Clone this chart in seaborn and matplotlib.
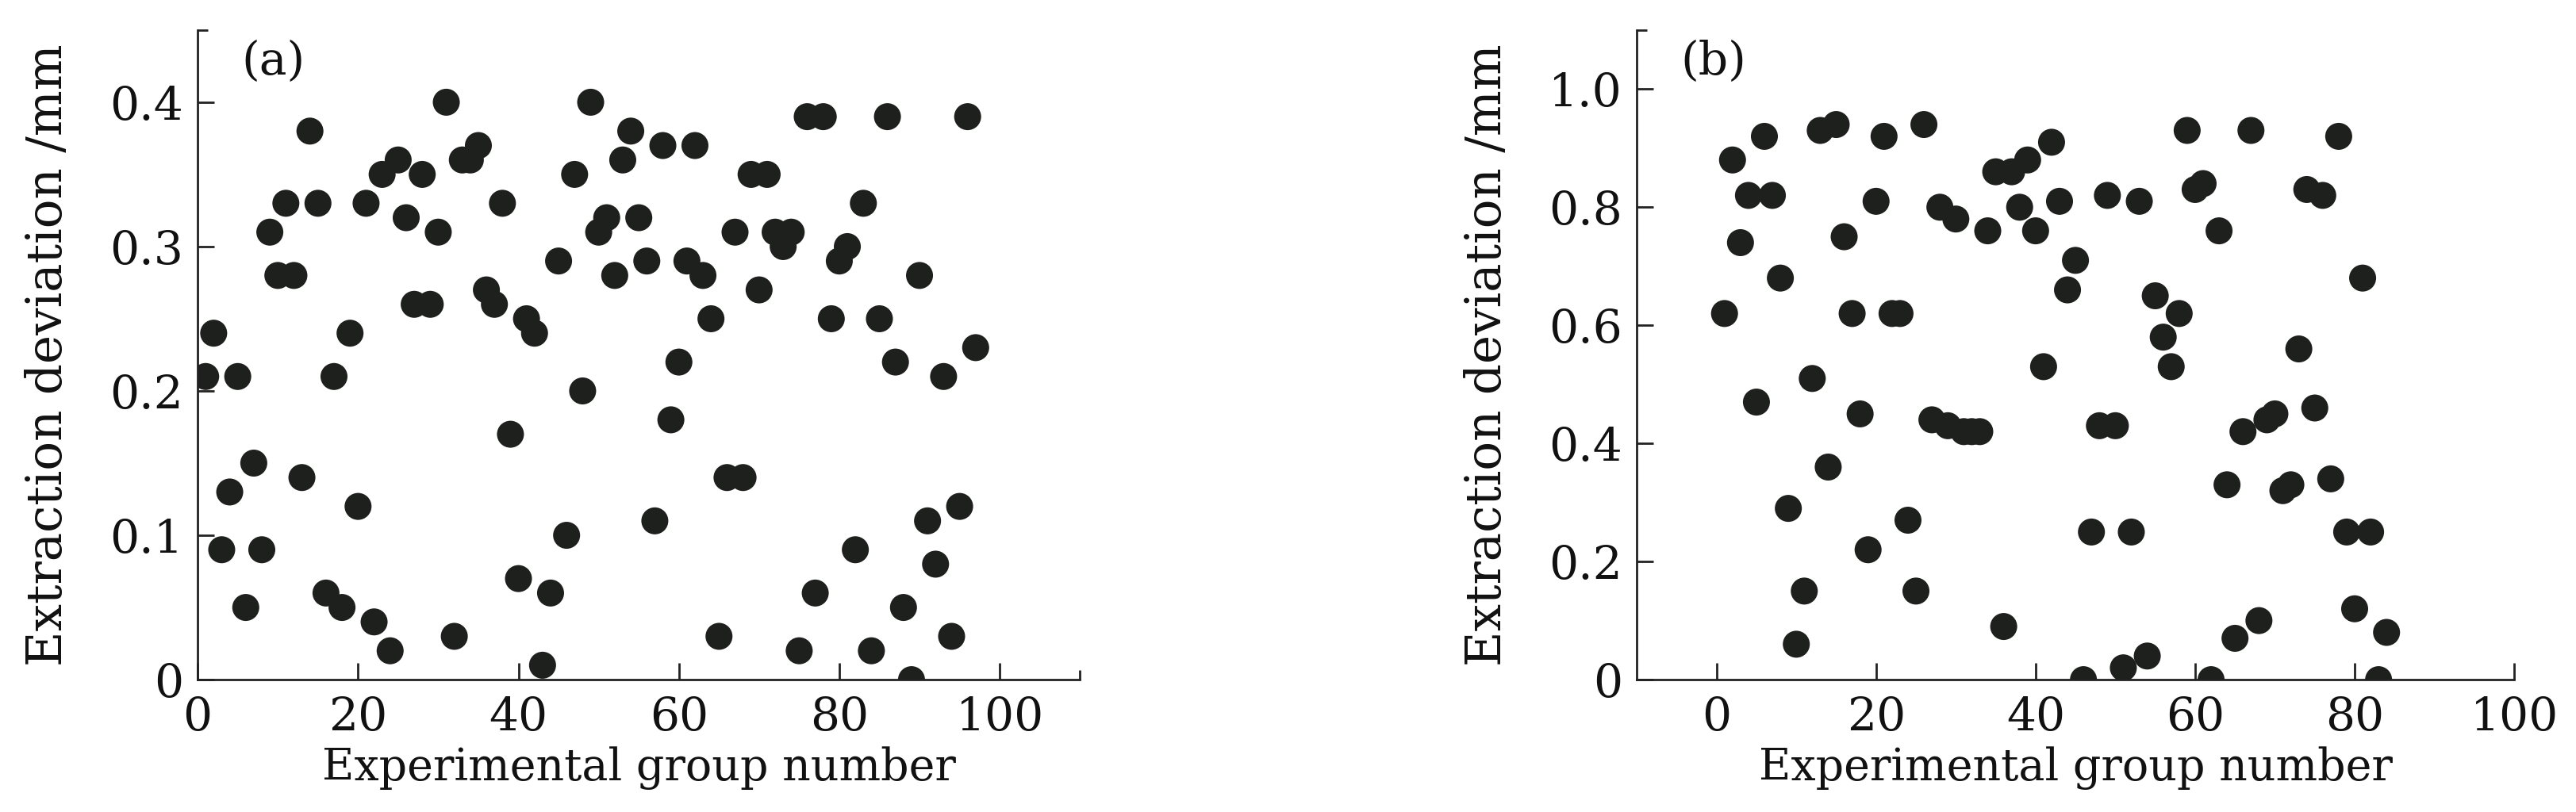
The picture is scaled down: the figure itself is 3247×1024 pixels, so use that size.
import matplotlib
matplotlib.use("Agg")
import matplotlib.pyplot as plt
import matplotlib.ticker as mticker
import pandas as pd
import seaborn as sns

# ================= data =================
# (a) group number 1..97 and the extraction deviation
GROUP_A = list(range(1, 98))
DEV_A = [0.21, 0.24, 0.09, 0.13, 0.21, 0.05, 0.15, 0.09, 0.31, 0.28,
         0.33, 0.28, 0.14, 0.38, 0.33, 0.06, 0.21, 0.05, 0.24, 0.12,
         0.33, 0.04, 0.35, 0.02, 0.36, 0.32, 0.26, 0.35, 0.26, 0.31,
         0.40, 0.03, 0.36, 0.36, 0.37, 0.27, 0.26, 0.33, 0.17, 0.07,
         0.25, 0.24, 0.01, 0.06, 0.29, 0.10, 0.35, 0.20, 0.40, 0.31,
         0.32, 0.28, 0.36, 0.38, 0.32, 0.29, 0.11, 0.37, 0.18, 0.22,
         0.29, 0.37, 0.28, 0.25, 0.03, 0.14, 0.31, 0.14, 0.35, 0.27,
         0.35, 0.31, 0.30, 0.31, 0.02, 0.39, 0.06, 0.39, 0.25, 0.29,
         0.30, 0.09, 0.33, 0.02, 0.25, 0.39, 0.22, 0.05, 0.00, 0.28,
         0.11, 0.08, 0.21, 0.03, 0.12, 0.39, 0.23]

# (b) group number 1..84
GROUP_B = list(range(1, 85))
DEV_B = [0.62, 0.88, 0.74, 0.82, 0.47, 0.92, 0.82, 0.68, 0.29, 0.06,
         0.15, 0.51, 0.93, 0.36, 0.94, 0.75, 0.62, 0.45, 0.22, 0.81,
         0.92, 0.62, 0.62, 0.27, 0.15, 0.94, 0.44, 0.80, 0.43, 0.78,
         0.42, 0.42, 0.42, 0.76, 0.86, 0.09, 0.86, 0.80, 0.88, 0.76,
         0.53, 0.91, 0.81, 0.66, 0.71, 0.00, 0.25, 0.43, 0.82, 0.43,
         0.02, 0.25, 0.81, 0.04, 0.65, 0.58, 0.53, 0.62, 0.93, 0.83,
         0.84, 0.00, 0.76, 0.33, 0.07, 0.42, 0.93, 0.10, 0.44, 0.45,
         0.32, 0.33, 0.56, 0.83, 0.46, 0.82, 0.34, 0.92, 0.25, 0.12,
         0.68, 0.25, 0.00, 0.08]

PANEL_LABELS = ['(a)', '(b)']
XLABEL = 'Experimental group number'
YLABEL = 'Extraction deviation /mm'
# ========================================

DOT = '#1e201d'
FS_TICK = 42
FS_XLAB = 40
FS_YLAB = 44


def fmt_y(v, pos):
    return '0' if abs(v) < 1e-9 else f'{v:.1f}'


def draw_panel(ax, x, y, label, xlim, ylim, yticks, xend, yend, ylab_x):
    df = pd.DataFrame({'group': x, 'dev': y})
    sns.scatterplot(data=df, x='group', y='dev', ax=ax, s=600,
                    color=DOT, edgecolor='none', linewidth=0, legend=False)

    ax.set_xlim(*xlim)
    ax.set_ylim(*ylim)
    ax.set_xticks([0, 20, 40, 60, 80, 100])
    ax.set_yticks(yticks)
    ax.yaxis.set_major_formatter(mticker.FuncFormatter(fmt_y))
    # small end-of-axis ticks
    ax.xaxis.set_minor_locator(mticker.FixedLocator(xend))
    ax.yaxis.set_minor_locator(mticker.FixedLocator(yend))

    sns.despine(ax=ax)
    for side in ['left', 'bottom']:
        ax.spines[side].set_linewidth(2.0)
        ax.spines[side].set_color('#222222')

    ax.tick_params(which='major', direction='in', length=15, width=2.0,
                   colors='#222222', labelcolor='#111111', labelsize=FS_TICK)
    ax.tick_params(axis='y', which='major', pad=13)
    ax.tick_params(axis='x', which='major', pad=14)
    ax.tick_params(which='minor', direction='in', length=9, width=2.0,
                   colors='#222222')

    ax.set_xlabel(XLABEL, fontsize=FS_XLAB, labelpad=6, color='#111111')
    ax.set_ylabel(YLABEL, fontsize=FS_YLAB, color='#111111')
    ax.yaxis.set_label_coords(ylab_x, 0.5)
    ax.text(0.05, 0.951, label, transform=ax.transAxes, fontsize=FS_TICK,
            va='center', ha='left', color='#111111')
    ax.grid(False)


def main():
    sns.set_style('ticks')
    plt.rcParams['font.family'] = ['DejaVu Serif']
    plt.rcParams['mathtext.fontset'] = 'dejavuserif'

    fig = plt.figure(figsize=(32.48, 10.24), dpi=100)
    ax_a = fig.add_axes([0.0767, 0.163, 0.3424, 0.800])
    ax_b = fig.add_axes([0.6352, 0.163, 0.3405, 0.800])

    draw_panel(ax_a, GROUP_A, DEV_A, PANEL_LABELS[0],
               (0, 110), (0, 0.45), [0, 0.1, 0.2, 0.3, 0.4], [110], [0.45],
               -0.142)
    draw_panel(ax_b, GROUP_B, DEV_B, PANEL_LABELS[1],
               (-10, 100), (0, 1.1), [0, 0.2, 0.4, 0.6, 0.8, 1.0], [], [1.1],
               -0.143)

    fig.savefig('out.png', dpi=100, facecolor='white')
    plt.close(fig)


if __name__ == '__main__':
    main()
